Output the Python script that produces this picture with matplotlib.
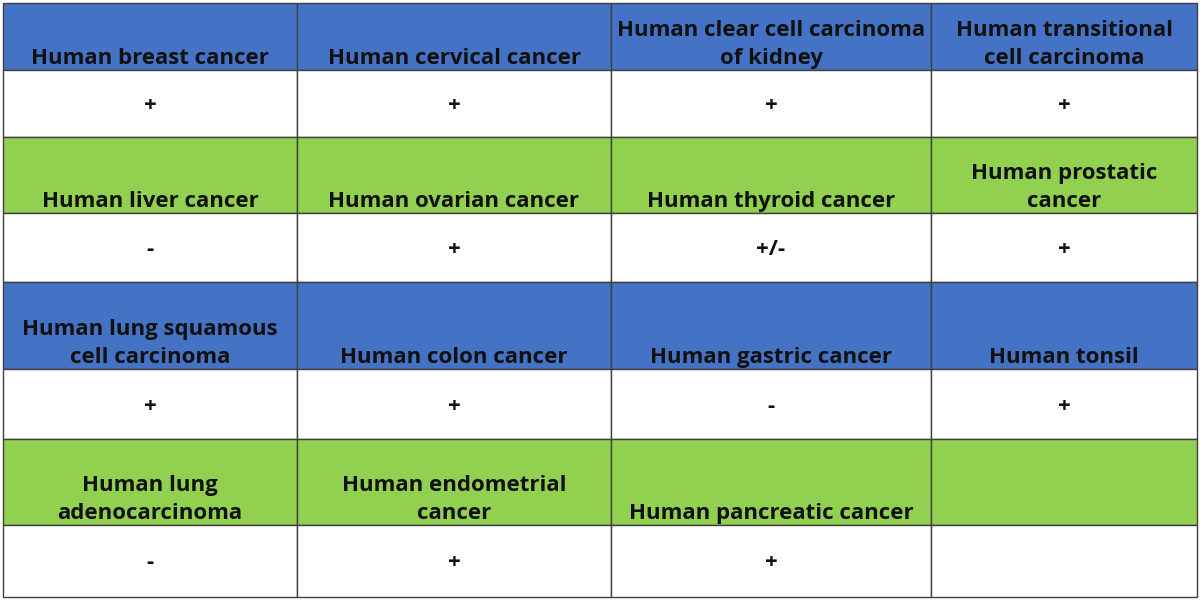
import matplotlib.pyplot as plt
from matplotlib.patches import Rectangle

# table content
headers = [
    ["Human breast cancer", "Human cervical cancer", "Human clear cell carcinoma\nof kidney", "Human transitional\ncell carcinoma"],
    ["Human liver cancer", "Human ovarian cancer", "Human thyroid cancer", "Human prostatic\ncancer"],
    ["Human lung squamous\ncell carcinoma", "Human colon cancer", "Human gastric cancer", "Human tonsil"],
    ["Human lung\nadenocarcinoma", "Human endometrial\ncancer", "Human pancreatic cancer", ""],
]
results = [
    ["+", "+", "+", "+"],
    ["-", "+", "+/-", "+"],
    ["+", "+", "-", "+"],
    ["-", "+", "+", ""],
]
header_colors = ["#4472C4", "#92D050", "#4472C4", "#92D050"]

# layout (pixels)
col_edges = [3, 297, 611, 931, 1197]
row_edges = [3, 70, 137, 213, 282, 369, 439, 525, 597]

fig = plt.figure(figsize=(12, 6), dpi=100)
ax = fig.add_axes([0, 0, 1, 1])
ax.set_xlim(0, 1200)
ax.set_ylim(600, 0)
ax.axis("off")

font = {"family": "Open Sans", "weight": "bold", "size": 16}

for g in range(4):
    for kind in range(2):
        r = g * 2 + kind
        y0, y1 = row_edges[r], row_edges[r + 1]
        for c in range(4):
            x0, x1 = col_edges[c], col_edges[c + 1]
            face = header_colors[g] if kind == 0 else "white"
            ax.add_patch(Rectangle((x0, y0), x1 - x0, y1 - y0, facecolor=face,
                                   edgecolor="#404040", linewidth=1))
            xc = (x0 + x1) / 2
            if kind == 0:
                ax.text(xc, y1 - 1, headers[g][c], ha="center", va="bottom",
                        linespacing=1.45, color="#111111", **font)
            else:
                ax.text(xc, (y0 + y1) / 2 + 2, results[g][c], ha="center", va="center",
                        color="#111111", **font)

fig.savefig("out.png", dpi=100)
